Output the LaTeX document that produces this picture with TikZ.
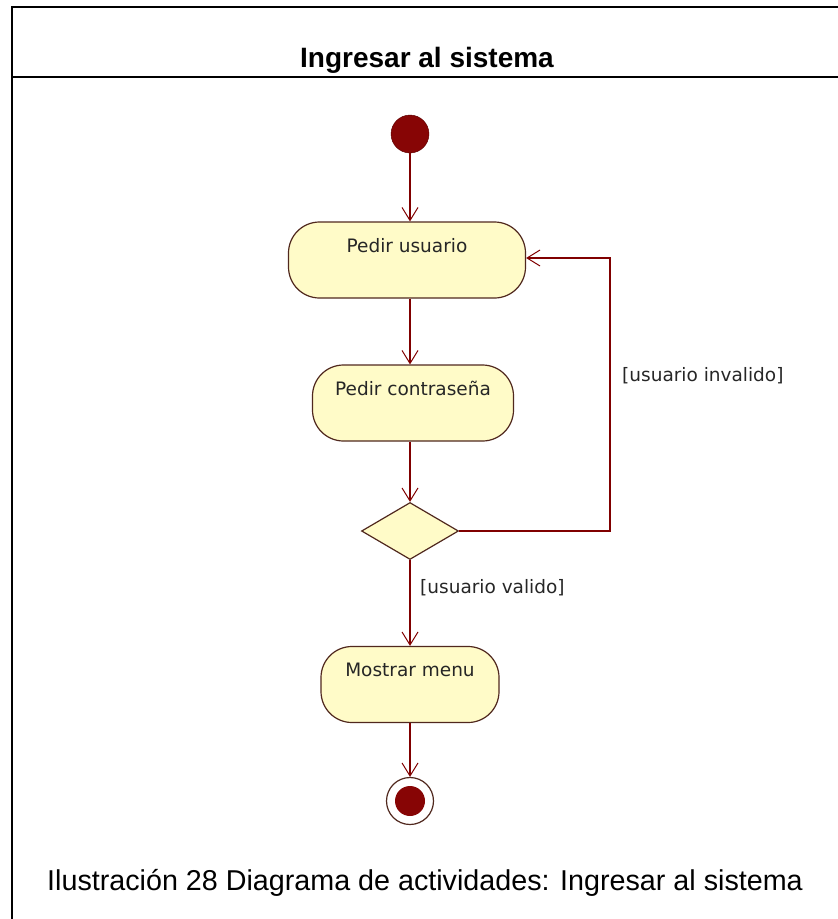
\documentclass[tikz,border=0pt]{standalone}
\usepackage{fontspec}
\setmainfont{Liberation Sans}
\newfontfamily\umlfont{DejaVu Sans}
\usetikzlibrary{shapes.geometric,arrows.meta}
\definecolor{flujo}{RGB}{128,0,0}
\definecolor{borde}{RGB}{80,40,30}
\definecolor{relleno}{RGB}{255,251,200}
\definecolor{inicio}{RGB}{135,5,5}
\begin{document}
\begin{tikzpicture}[x=1pt,y=-1pt]
            \tikzset{
	actividad/.style={draw=borde,line width=1.2pt,fill=relleno,rounded corners=31pt,
		font=\umlfont\fontsize{18.5}{22}\selectfont,text=black!85,
		text height=21pt,text depth=37pt,inner ysep=9pt,inner xsep=0pt},
	decision/.style={diamond,draw=borde,line width=1.2pt,fill=relleno,inner sep=0pt,
		minimum width=97pt,minimum height=57pt},
	guarda/.style={font=\umlfont\fontsize{18.5}{22}\selectfont,text=black!85,inner sep=0pt},
	flujo/.style={draw=flujo,line width=1.2pt,-{Straight Barb[length=13pt,width=16pt,line width=1pt]}}
}
\useasboundingbox (0,0) rectangle (838,919);
\draw[line width=2.5pt] (838,7) -- (12,7) -- (12,919);
\draw[line width=2.5pt] (12,77) -- (838,77);
\node[anchor=base,inner sep=0pt,font=\bfseries\fontsize{28}{33}\selectfont] (titulo) at (427,67) {Ingresar al sistema};

\node[circle,fill=inicio,draw=flujo!70!black,minimum size=38pt,inner sep=0pt] (ini) at (410,134) {};
\node[actividad,minimum width=237pt] (usuario) at (407,260) {Pedir usuario};
\node[actividad,minimum width=201pt] (clave) at (413,403) {Pedir contrase\~na};
\node[decision] (dec) at (410,531) {};
\node[actividad,minimum width=178pt] (menu) at (410,684.5) {Mostrar menu};
\node[circle,draw=borde,line width=1.2pt,fill=white,minimum size=47pt,inner sep=0pt] (fin) at (410,801) {};
\node[circle,fill=inicio,minimum size=30pt,inner sep=0pt] (finc) at (fin) {};

\draw[flujo] (ini) -- (ini |- usuario.north);
\draw[flujo] (usuario.south -| ini) -- (ini |- clave.north);
\draw[flujo] (clave.south -| ini) -- (dec.north);
\draw[flujo] (dec.south) -- (menu.north -| dec);
\draw[flujo] (menu.south -| dec) -- (fin.north);
\draw[flujo] (dec.east) -- (610,531) |- ([yshift=2pt]usuario.east);

\node[guarda,anchor=west] (invalido) at (622,376) {[usuario invalido]};
\node[guarda,anchor=west] (valido) at (420,588) {[usuario valido]};

\node[anchor=base,inner sep=0pt,font=\fontsize{28.7}{34}\selectfont] (pie) at (425,890) {Ilustración 28 Diagrama de actividades: Ingresar al sistema};
        \end{tikzpicture}
\end{document}
